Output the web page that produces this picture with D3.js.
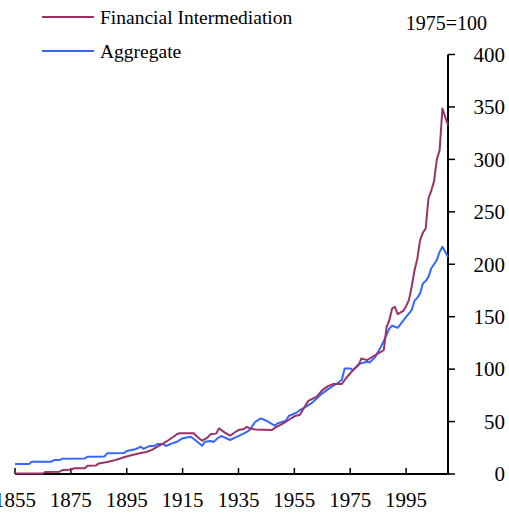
<!DOCTYPE html>
<html>
<head>
<meta charset="utf-8">
<script src="https://cdn.jsdelivr.net/npm/d3@7"></script>
<style>
  body { margin: 0; background: #fff; }
  svg { display: block; }
  text { font-family: "Liberation Serif", "Times New Roman", serif; fill: #000; }
</style>
</head>
<body>
<svg id="chart" width="509" height="523"></svg>
<script>
// Financial Intermediation series (1975=100)
var finYears = [1855,1865,1866,1871,1872,1875,1876,1880,1881,1884,1885,1888,1891,1894,1897,1900,1902,1904,1906,1908,1910,1912,1913,1914,1919,1920,1922,1924,1925,1927,1928,1930,1932,1934,1935,1937,1938,1939,1941,1947,1948,1949,1951,1953,1955,1957,1958,1960,1963,1965,1967,1969,1972,1974,1976,1978,1979,1981,1983,1985,1987,1988,1989,1990,1991,1992,1994,1995,1996,1997,1998,1999,2000,2001,2002,2003,2004,2005,2006,2007,2008,2010];
var finValues = [0.5,0.5,2,2.2,3.8,4,5.4,5.6,7.9,8.2,10.1,11.4,13.3,15.9,18.1,20,21,23,26,29,32.4,36,38.2,38.8,38.8,36,31.7,35,38,38.5,43.5,39.7,36.5,40.3,41.9,43,45,43.5,42.5,42,44,45.5,48.3,51.5,55,56.5,61,69.8,73.7,80,83.8,85.8,85.8,93,99,103.9,110.2,108.6,111.8,115,118,140,146.7,157.9,159.4,152.5,155.6,160,165.8,178.5,194,205,223,230,234,262.7,270,279,300,308.7,348.4,332.5];

// Aggregate series (1975=100)
var aggYears = [1855,1860,1861,1868,1869,1871,1872,1880,1881,1887,1888,1894,1895,1898,1900,1901,1903,1905,1906,1908,1909,1911,1913,1915,1918,1922,1923,1925,1926,1928,1929,1932,1934,1937,1939,1941,1943,1945,1948,1949,1952,1953,1956,1957,1959,1961,1963,1965,1968,1970,1972,1973,1975,1976,1978,1981,1982,1984,1986,1988,1989,1990,1991,1992,1995,1997,1998,1999,2000,2001,2002,2003,2004,2006,2007,2008,2009,2010];
var aggValues = [9.5,9.5,11.7,11.7,13.3,13.3,14.6,14.8,16.5,16.7,19.7,20,21.9,23.5,26,24,26.5,27,28.6,28.6,26.7,29,30.8,34,35.5,27,30.8,31.5,30.5,35,36.2,32.4,35,38.8,41.9,49.8,53,50.8,46,48.3,50.8,55.3,58.8,61,64,67.3,72.1,76.9,82.6,85.8,89.6,100.7,100.7,99,104.8,107,106.4,111.8,121.3,132.4,138.8,141.3,140.4,139.4,149.9,156.3,165,168,172.2,181.7,184,188,196,204,211.8,216.6,212,207];

var xTickYears = [1855,1875,1895,1915,1935,1955,1975,1995];
var yTickValues = [0,50,100,150,200,250,300,350,400];
var seriesNames = ["Financial Intermediation", "Aggregate"];
var seriesColors = ["#993366", "#3366FF"];

var svg = d3.select("#chart");

var x = d3.scaleLinear().domain([1855, 2010]).range([15, 448]);
var y = d3.scaleLinear().domain([0, 400]).range([474, 54.5]);

// x axis with ticks pointing up
var xAxis = svg.append("g").attr("transform", "translate(0,474)");
xAxis.append("line")
  .attr("x1", x.range()[0]).attr("x2", x.range()[1])
  .attr("stroke", "#000").attr("stroke-width", 2);
xAxis.selectAll("line.tick").data(xTickYears).enter().append("line")
  .attr("class", "tick")
  .attr("x1", function(d) { return x(d); }).attr("x2", function(d) { return x(d); })
  .attr("y1", 0).attr("y2", -6)
  .attr("stroke", "#000").attr("stroke-width", 1.5);
xAxis.selectAll("text").data(xTickYears).enter().append("text")
  .attr("x", function(d) { return x(d); })
  .attr("y", 33)
  .attr("text-anchor", "middle")
  .attr("font-size", "21px")
  .text(function(d) { return d; });

// y axis on the right, ticks pointing outward
var yAxis = svg.append("g").attr("transform", "translate(448,0)");
yAxis.append("line")
  .attr("y1", y(0) + 1).attr("y2", y(400))
  .attr("stroke", "#000").attr("stroke-width", 2);
yAxis.selectAll("line.tick").data(yTickValues).enter().append("line")
  .attr("class", "tick")
  .attr("x1", 0).attr("x2", 7)
  .attr("y1", function(d) { return y(d); }).attr("y2", function(d) { return y(d); })
  .attr("stroke", "#000").attr("stroke-width", 1.5);
yAxis.selectAll("text").data(yTickValues).enter().append("text")
  .attr("x", 57)
  .attr("y", function(d) { return y(d); })
  .attr("dy", "0.35em")
  .attr("text-anchor", "end")
  .attr("font-size", "21px")
  .text(function(d) { return d; });

svg.append("text")
  .attr("x", 487).attr("y", 30)
  .attr("text-anchor", "end")
  .attr("font-size", "20px")
  .text("1975=100");

// lines
var line = d3.line()
  .x(function(d) { return x(d[0]); })
  .y(function(d) { return y(d[1]); });

var series = [
  d3.zip(finYears, finValues),
  d3.zip(aggYears, aggValues)
];

// draw aggregate first, financial on top
[1, 0].forEach(function(i) {
  svg.append("path")
    .datum(series[i])
    .attr("d", line)
    .attr("fill", "none")
    .attr("stroke", seriesColors[i])
    .attr("stroke-width", 2)
    .attr("stroke-linejoin", "round");
});

// legend
var legend = svg.append("g");
seriesNames.forEach(function(name, i) {
  var ly = 17 + i * 34;
  legend.append("line")
    .attr("x1", 42).attr("x2", 94)
    .attr("y1", ly).attr("y2", ly)
    .attr("stroke", seriesColors[i]).attr("stroke-width", 2);
  legend.append("text")
    .attr("x", 100).attr("y", ly)
    .attr("dy", "0.35em")
    .attr("font-size", "19.5px")
    .text(name);
});
</script>
</body>
</html>
